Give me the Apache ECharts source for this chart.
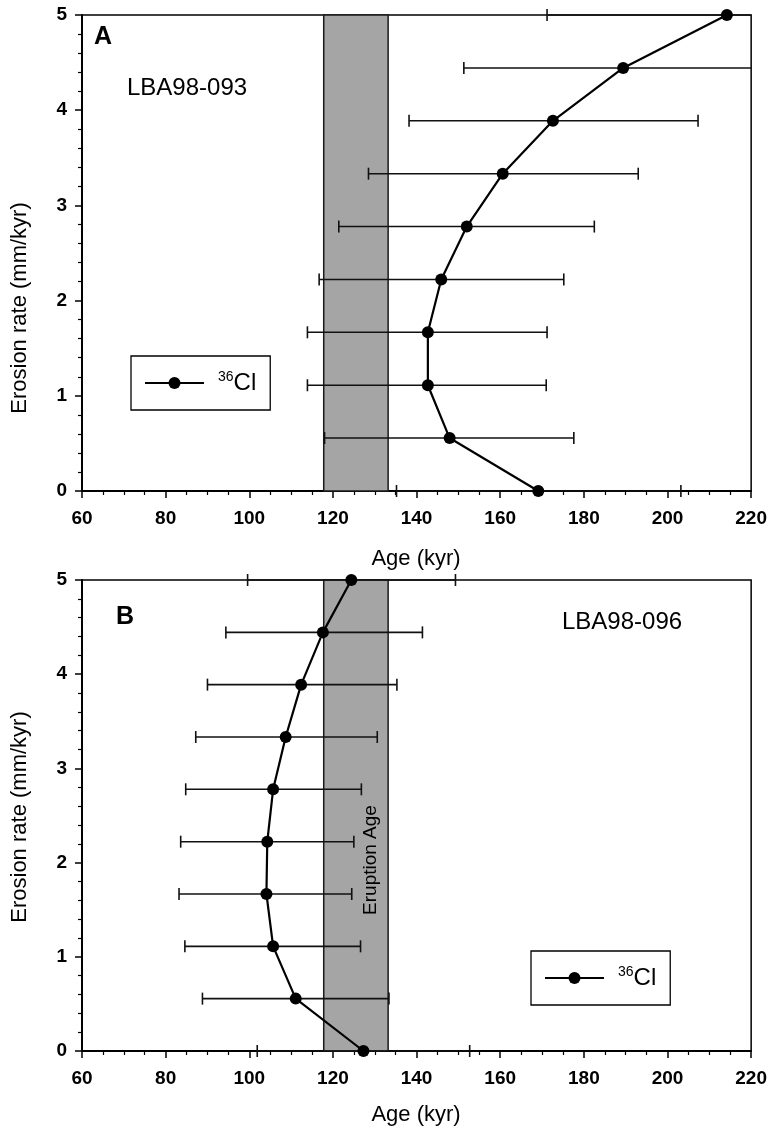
<!DOCTYPE html>
<html><head><meta charset="utf-8">
<script src="https://cdn.jsdelivr.net/npm/echarts@6/dist/echarts.min.js"></script>
<style>html,body{margin:0;padding:0;background:#fff}#c{width:770px;height:1131px}</style>
</head><body><div id="c"></div><script>
// ---- data ----
const rates = [0, 0.556, 1.111, 1.667, 2.222, 2.778, 3.333, 3.889, 4.444, 5];
const ageA = [169.1, 147.9, 142.7, 142.7, 145.9, 152.0, 160.6, 172.6, 189.4, 214.2];
const loA  = [135.2, 118.0, 113.9, 113.9, 116.7, 121.4, 128.5, 138.2, 151.3, 171.2];
const hiA  = [203.2, 177.6, 171.0, 171.2, 175.2, 182.5, 193.0, 207.3, 227.5, 257.2];
const ageB = [127.3, 111.1, 105.7, 104.1, 104.3, 105.7, 108.7, 112.4, 117.6, 124.4];
const loB  = [101.9, 88.8, 84.6, 83.2, 83.6, 84.8, 87.2, 90.0, 94.4, 99.6];
const hiB  = [152.7, 133.4, 126.6, 124.5, 125.0, 126.8, 130.6, 135.3, 141.4, 149.3];
const eruptionBand = [117.8, 133.2];
const xMin = 60, xMax = 220, xStep = 20;
const yMin = 0, yMax = 5, yStep = 1;
const seriesName = 'Cl36';
const sampleA = 'LBA98-093', sampleB = 'LBA98-096';

const FONT = '"Liberation Sans", Arial, Helvetica, sans-serif';
const chart = echarts.init(document.getElementById('c'), null, {renderer: 'canvas'});

function xAxisCfg(g) {
  return {
    type: 'value', gridIndex: g, min: xMin, max: xMax, interval: xStep,
    axisLine: {onZero: false, lineStyle: {color: '#000', width: 2}},
    axisTick: {show: true, length: 7, lineStyle: {color: '#000', width: 1.5}},
    minorTick: {show: true, splitNumber: 4, length: 4, lineStyle: {color: '#000', width: 1.2}},
    splitLine: {show: false}, minorSplitLine: {show: false},
    axisLabel: {color: '#000', fontSize: 19, fontWeight: 'bold', fontFamily: FONT, margin: 18}
  };
}
function yAxisCfg(g) {
  return {
    type: 'value', gridIndex: g, min: yMin, max: yMax, interval: yStep,
    axisLine: {onZero: false, lineStyle: {color: '#000', width: 2}},
    axisTick: {show: true, length: 7, lineStyle: {color: '#000', width: 1.5}},
    minorTick: {show: true, splitNumber: 5, length: 4, lineStyle: {color: '#000', width: 1.2}},
    splitLine: {show: false}, minorSplitLine: {show: false},
    axisLabel: {color: '#000', fontSize: 19, fontWeight: 'bold', fontFamily: FONT, margin: 15}
  };
}

function bandSeries(g) {
  return {
    type: 'custom', xAxisIndex: g, yAxisIndex: g, z: 1, silent: true,
    data: [[eruptionBand[0], eruptionBand[1], yMin, yMax]],
    encode: {x: [0, 1], y: [2, 3]},
    renderItem: function (params, api) {
      const p1 = api.coord([api.value(0), api.value(3)]);
      const p2 = api.coord([api.value(1), api.value(2)]);
      return {
        type: 'rect',
        shape: {x: p1[0], y: p1[1], width: p2[0] - p1[0], height: p2[1] - p1[1]},
        style: {fill: '#a5a5a5', stroke: '#1a1a1a', lineWidth: 1.5}
      };
    }
  };
}

function errSeries(g, lo, hi) {
  return {
    type: 'custom', xAxisIndex: g, yAxisIndex: g, z: 2, silent: true,
    data: rates.map((r, i) => [lo[i], hi[i], r]),
    encode: {x: [0, 1], y: 2},
    renderItem: function (params, api) {
      const l = api.value(0), h = api.value(1), r = api.value(2);
      const cl = Math.max(l, xMin), ch = Math.min(h, xMax);
      const p1 = api.coord([cl, r]), p2 = api.coord([ch, r]);
      const cap = 6;
      const st = {stroke: '#111', lineWidth: 1.6};
      const children = [{type: 'line', shape: {x1: p1[0], y1: p1[1], x2: p2[0], y2: p2[1]}, style: st}];
      if (l >= xMin) children.push({type: 'line', shape: {x1: p1[0], y1: p1[1] - cap, x2: p1[0], y2: p1[1] + cap}, style: st});
      if (h <= xMax) children.push({type: 'line', shape: {x1: p2[0], y1: p2[1] - cap, x2: p2[0], y2: p2[1] + cap}, style: st});
      return {type: 'group', children: children};
    }
  };
}

function lineSeries(g, ages) {
  return {
    name: seriesName, type: 'line', xAxisIndex: g, yAxisIndex: g, z: 3, clip: false,
    data: rates.map((r, i) => [ages[i], r]),
    symbol: 'circle', symbolSize: 12,
    itemStyle: {color: '#000'},
    lineStyle: {color: '#000', width: 2.2},
    emphasis: {disabled: true}
  };
}

const legendText = {
  color: '#000', fontFamily: FONT, fontSize: 24, padding: [0, 0, 0, 9],
  rich: {
    sup: {fontSize: 14, fontFamily: FONT, color: '#000', verticalAlign: 'top', lineHeight: 26, padding: [0, 0, 10, 0]},
    el: {fontSize: 24, fontFamily: FONT, color: '#000', lineHeight: 26}
  }
};
function legendCfg(left, top) {
  return {
    show: true, left: left, top: top, orient: 'horizontal',
    data: [seriesName],
    itemWidth: 59, itemHeight: 15,
    padding: [14, 14, 15, 13],
    borderColor: '#000', borderWidth: 1.3, backgroundColor: '#fff',
    lineStyle: {width: 2, color: '#000'},
    itemStyle: {color: '#000'},
    textStyle: legendText,
    formatter: () => '{sup|36}{el|Cl}',
    selectedMode: false
  };
}

const option = {
  animation: false,
  backgroundColor: '#fff',
  grid: [
    {left: 82, top: 15, width: 670, height: 476, show: true, borderColor: '#000', borderWidth: 1.5, backgroundColor: 'transparent'},
    {left: 82, top: 580, width: 670, height: 471, show: true, borderColor: '#000', borderWidth: 1.5, backgroundColor: 'transparent'}
  ],
  xAxis: [xAxisCfg(0), xAxisCfg(1)],
  yAxis: [yAxisCfg(0), yAxisCfg(1)],
  legend: [legendCfg(131, 356), legendCfg(531, 951)],
  series: [
    bandSeries(0), errSeries(0, loA, hiA), lineSeries(0, ageA),
    bandSeries(1), errSeries(1, loB, hiB), lineSeries(1, ageB)
  ],
  graphic: [
    {type: 'text', left: 94, top: 25, style: {text: 'A', fontSize: 25, fontWeight: 'bold', fontFamily: FONT, fill: '#000'}},
    {type: 'text', left: 127, top: 76, style: {text: sampleA, fontSize: 24, fontFamily: FONT, fill: '#000'}},
    {type: 'text', left: 116, top: 605, style: {text: 'B', fontSize: 25, fontWeight: 'bold', fontFamily: FONT, fill: '#000'}},
    {type: 'text', left: 562, top: 610, style: {text: sampleB, fontSize: 24, fontFamily: FONT, fill: '#000'}},
    {type: 'text', x: 416, y: 559, style: {text: 'Age (kyr)', fontSize: 22, fontFamily: FONT, fill: '#000', align: 'center', verticalAlign: 'middle'}},
    {type: 'text', x: 416, y: 1115, style: {text: 'Age (kyr)', fontSize: 22, fontFamily: FONT, fill: '#000', align: 'center', verticalAlign: 'middle'}},
    {type: 'text', x: 20, y: 308, rotation: Math.PI / 2, style: {text: 'Erosion rate (mm/kyr)', fontSize: 22, fontFamily: FONT, fill: '#000', align: 'center', verticalAlign: 'middle'}},
    {type: 'text', x: 20, y: 817, rotation: Math.PI / 2, style: {text: 'Erosion rate (mm/kyr)', fontSize: 22, fontFamily: FONT, fill: '#000', align: 'center', verticalAlign: 'middle'}},
    {type: 'text', x: 371, y: 860, z: 10, rotation: Math.PI / 2, style: {text: 'Eruption Age', fontSize: 19, fontFamily: FONT, fill: '#000', align: 'center', verticalAlign: 'middle'}}
  ]
};
chart.setOption(option);
</script></body></html>
